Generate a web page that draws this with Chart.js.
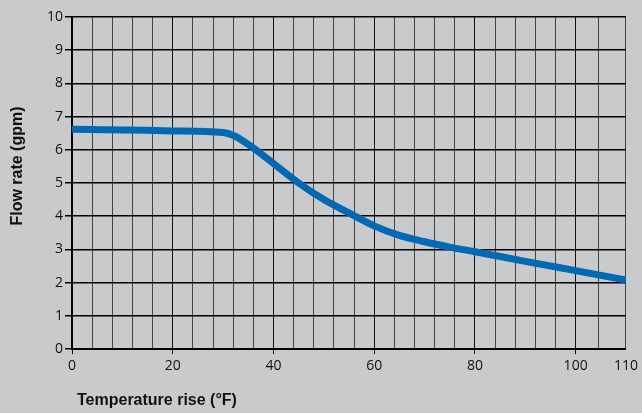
<!DOCTYPE html>
<html>
<head>
<meta charset="utf-8">
<script src="https://cdn.jsdelivr.net/npm/chart.js@4/dist/chart.umd.min.js"></script>
<style>
 html,body{margin:0;padding:0;background:#c9cacc;}
 #wrap{width:642px;height:413px;}
</style>
</head>
<body>
<div id="wrap"><canvas id="flowChart" width="642" height="413"></canvas></div>
<script>
// Flow rate vs temperature rise
var tempRise = [0,10,20,30,32.5,35,40,45,50,55,60,65,70,75,80,90,100,110];
var flowRate = [6.62,6.60,6.57,6.52,6.40,6.16,5.59,5.0,4.5,4.1,3.71,3.42,3.23,3.07,2.93,2.64,2.36,2.08];

var xGrid = [0,4,8,12,16,20,24,28,32,36,40,44,48,52,56,60,64,68,72,76,80,84,88,92,96,100,104.5,110];
var xLabels = [0,20,40,60,80,100,110];
var yTicks = [0,1,2,3,4,5,6,7,8,9,10];

var xTitle = "Temperature rise (°F)";
var yTitle = "Flow rate (gpm)";

var pts = tempRise.map(function(t,i){ return {x:t, y:flowRate[i]}; });

// gray page + axis titles
var decor = {
 id:'decor',
 beforeDraw:function(chart){
  var c = chart.ctx;
  c.save();
  c.fillStyle = '#c9cacc';
  c.fillRect(0,0,chart.width,chart.height);
  c.restore();
 },
 afterDraw:function(chart){
  var c = chart.ctx, a = chart.chartArea;
  c.save();
  c.fillStyle = '#111';
  c.font = 'bold 16px "Liberation Sans", Arial, sans-serif';
  c.textBaseline = 'middle';
  c.textAlign = 'left';
  c.fillText(xTitle, a.left+5, 401);
  c.translate(18,166);
  c.rotate(-Math.PI/2);
  c.textAlign = 'center';
  c.fillText(yTitle, 0, 0);
  c.restore();
 }
};

new Chart(document.getElementById('flowChart'),{
 type:'line',
 data:{
  datasets:[{
   data:pts,
   borderColor:'#0069b4',
   borderWidth:7,
   pointRadius:0,
   fill:false,
   cubicInterpolationMode:'monotone',
   borderCapStyle:'butt'
  }]
 },
 options:{
  responsive:false,
  animation:false,
  layout:{padding:{top:17,right:13,left:0,bottom:0}},
  plugins:{legend:{display:false},tooltip:{enabled:false}},
  scales:{
   x:{
    type:'linear',
    min:0,max:110,
    afterBuildTicks:function(s){ s.ticks = xGrid.map(function(v){return {value:v};}); },
    afterFit:function(s){ s.height = 64; },
    ticks:{
     autoSkip:false,
     maxRotation:0,
     padding:4,
     color:'#111',
     font:{family:'"Open Sans", sans-serif', size:14},
     callback:function(v){ return xLabels.indexOf(v) >= 0 ? String(v) : ''; }
    },
    grid:{
     color:function(ctx){ return ctx.tick && ctx.tick.value % 20 === 0 ? '#111' : '#444'; },
     lineWidth:1,
     tickLength:5,
     tickColor:function(ctx){ return ctx.tick && xLabels.indexOf(ctx.tick.value) >= 0 && ctx.tick.value !== 110 ? '#000' : 'rgba(0,0,0,0)'; }
    },
    border:{color:'#000', width:2}
   },
   y:{
    min:0,max:10,
    afterBuildTicks:function(s){ s.ticks = yTicks.map(function(v){return {value:v};}); },
    afterFit:function(s){ s.width = 72; },
    ticks:{
     padding:2,
     color:'#111',
     font:{family:'"Open Sans", sans-serif', size:14}
    },
    grid:{
     color:'#000',
     lineWidth:1.5,
     tickLength:7,
     tickColor:'#000'
    },
    border:{color:'#000', width:2}
   }
  }
 },
 plugins:[decor]
});
</script>
</body>
</html>
